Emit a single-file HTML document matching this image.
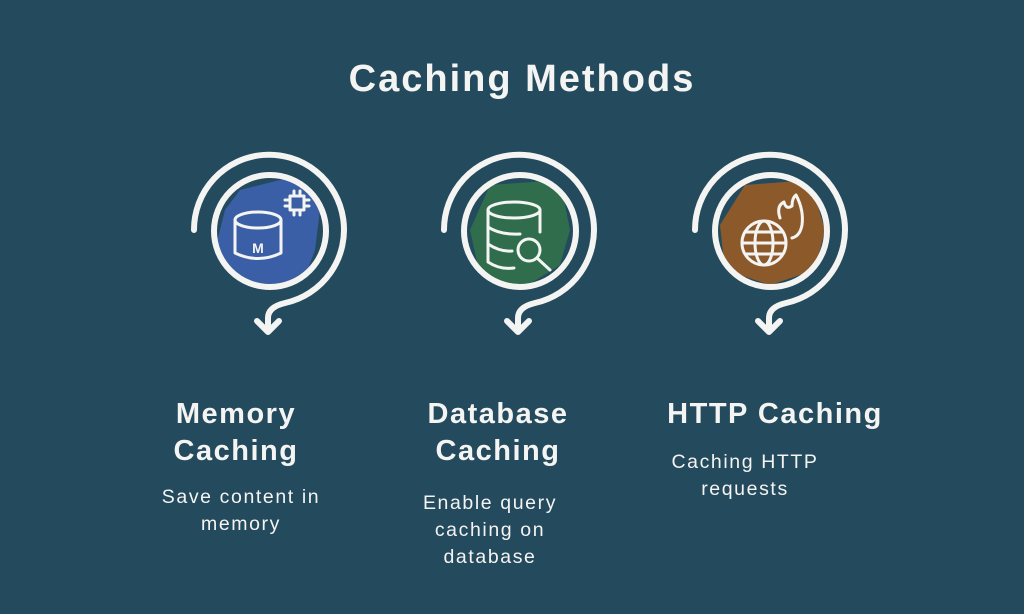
<!DOCTYPE html>
<html><head><meta charset="utf-8"><style>
html,body{margin:0;padding:0}
body{width:1024px;height:614px;background:#244a5e;position:relative;overflow:hidden;font-family:"Liberation Sans",sans-serif;color:#f4f4f2}
.t{position:absolute;text-align:center;white-space:nowrap}
.h{font-weight:bold;font-size:29px;line-height:37px;letter-spacing:1.5px}
.d{font-size:19.5px;line-height:27px;letter-spacing:1.6px}
</style></head><body>
<svg width="1024" height="614" style="position:absolute;left:0;top:0">
<defs>
<clipPath id="c1"><circle cx="270" cy="231" r="53"/></clipPath>
<clipPath id="c2"><circle cx="520" cy="231" r="53"/></clipPath>
<clipPath id="c3"><circle cx="771" cy="231" r="53"/></clipPath>
</defs>
<g clip-path="url(#c1)"><polygon points="240,190 300,175 320,210 315,250 300,290 230,285 215,250 225,210" fill="#3a5fa6"/></g>
<g clip-path="url(#c2)"><polygon points="490,185 560,180 570,230 560,265 520,290 480,275 470,230" fill="#2f6d4c"/></g>
<g clip-path="url(#c3)"><polygon points="745,185 810,180 825,230 815,270 770,285 725,270 720,225" fill="#8c5a2a"/></g>
<g fill="none" stroke="#f4f4f2" stroke-width="6" stroke-linecap="round" stroke-linejoin="round">
<circle cx="270" cy="231" r="56"/>
<path d="M194,230 A75,75 0 1 1 285,303 Q268,307 268,318 L268,332 M257,321 L268,332 L279,321"/>
<circle cx="520" cy="231" r="56"/>
<path d="M444,230 A75,75 0 1 1 535,303 Q518,307 518,318 L518,332 M507,321 L518,332 L529,321"/>
<circle cx="771" cy="231" r="56"/>
<path d="M695,230 A75,75 0 1 1 786,303 Q769,307 769,318 L769,332 M758,321 L769,332 L780,321"/>
</g>
<g fill="none" stroke="#f4f4f2" stroke-width="3" stroke-linecap="round" stroke-linejoin="round">
<ellipse cx="258" cy="220" rx="23" ry="8"/>
<path d="M235,220 L235,253 Q258,264 281,253 L281,220"/>
<rect x="290" y="196" width="14" height="14"/>
<path d="M294,191 v5 M300,191 v5 M294,210 v5 M300,210 v5 M285,200 h5 M285,206 h5 M304,200 h5 M304,206 h5"/>
<ellipse cx="514" cy="210" rx="26" ry="8"/>
<path d="M488,210 V262 Q500,270 514,268 M488,227 Q500,235 520,234 M488,244 Q500,252 512,251 M540,210 V232"/>
<circle cx="529" cy="250" r="11"/>
<path d="M537,258 L550,270"/>
<circle cx="764" cy="243" r="22"/>
<ellipse cx="764" cy="243" rx="9" ry="22"/>
<path d="M742,243 H786 M746,232 H782 M746,254 H782"/>
<path d="M780,218 Q776,206 784,202 Q786,210 792,206 Q792,198 796,195 Q804,210 802,225 Q800,236 792,238"/>
</g>
<text x="522" y="91" text-anchor="middle" font-family="Liberation Sans, sans-serif" font-weight="bold" font-size="38" letter-spacing="2" fill="#f4f4f2">Caching Methods</text>
<text x="258" y="253" text-anchor="middle" font-family="Liberation Sans, sans-serif" font-weight="bold" font-size="14" fill="#f4f4f2">M</text>
</svg>
<div class="t h" style="left:136px;width:200px;top:396px">Memory<br>Caching</div>
<div class="t d" style="left:136px;width:210px;top:484px">Save content in<br>memory</div>
<div class="t h" style="left:398px;width:200px;top:396px">Database<br>Caching</div>
<div class="t d" style="left:390px;width:200px;top:490px">Enable query<br>caching on<br>database</div>
<div class="t h" style="left:665px;width:220px;top:396px">HTTP Caching</div>
<div class="t d" style="left:645px;width:200px;top:449px">Caching HTTP<br>requests</div>
</body></html>
